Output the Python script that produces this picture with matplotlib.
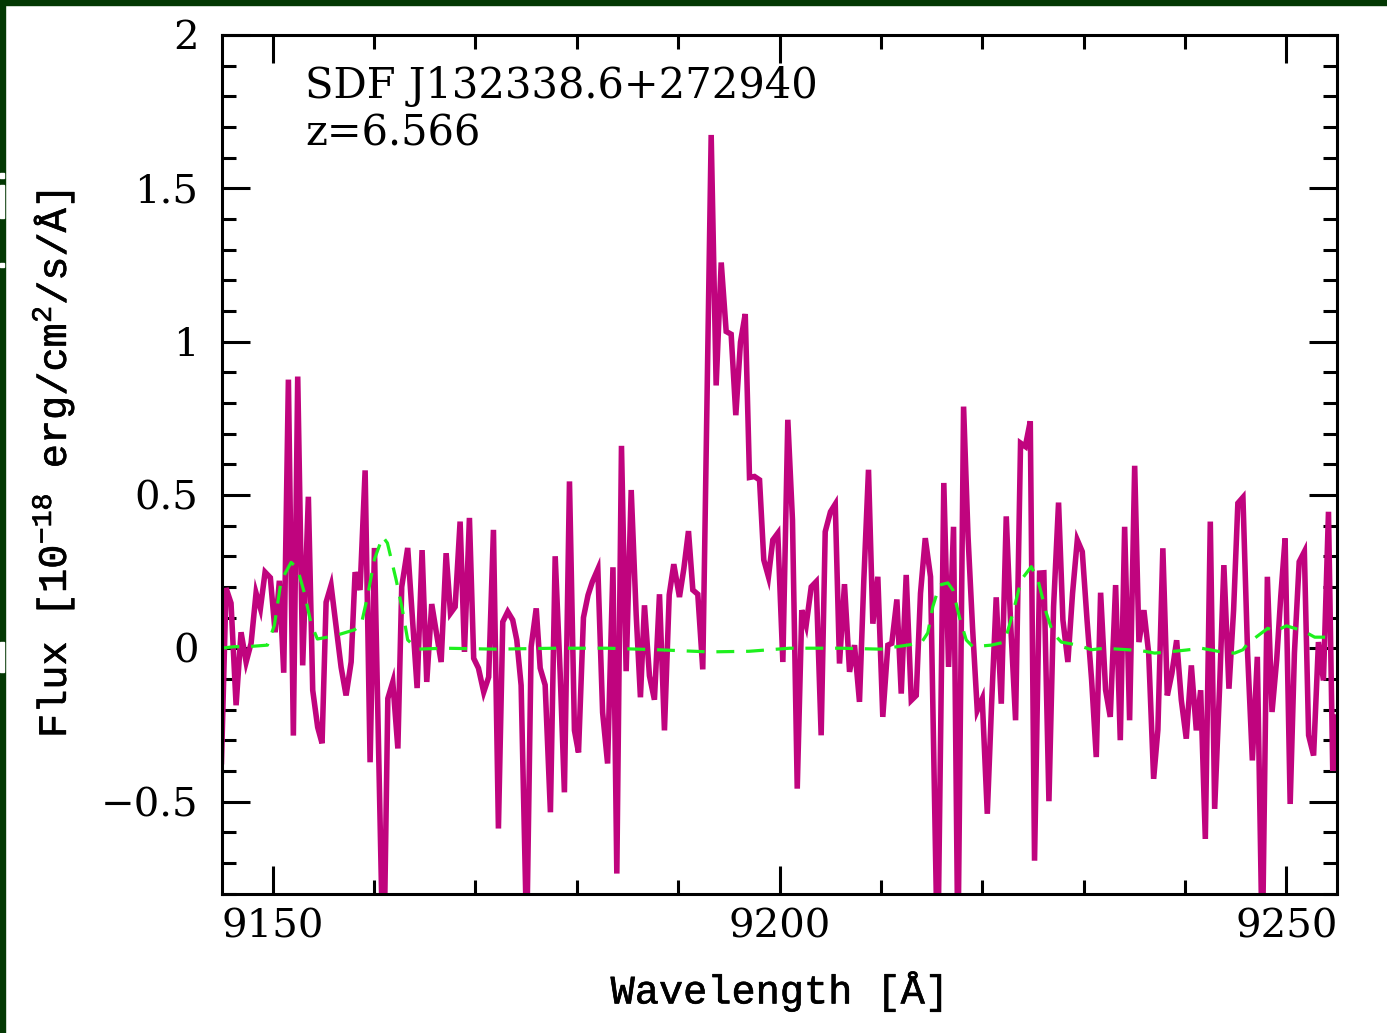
"""
Spectrum of SDF J132338.6+272940 around the Lya line, with its noise curve.
"""
import matplotlib
matplotlib.use("Agg")
import matplotlib.pyplot as plt
import matplotlib.patheffects as pe
from matplotlib.patches import Rectangle
from matplotlib.ticker import MultipleLocator, FuncFormatter

# observed flux [1e-18 erg/cm^2/s/A]
wave = [
    9144.95, 9145.40, 9145.89, 9146.39, 9146.88, 9147.38, 9147.87, 9148.36, 9148.79, 9149.25,
    9149.77, 9150.24, 9150.66, 9151.09, 9151.55, 9152.04, 9152.47, 9152.96, 9153.52, 9153.95,
    9154.44, 9154.87, 9155.27, 9155.76, 9156.26, 9156.75, 9157.24, 9157.74, 9158.13, 9158.62,
    9159.12, 9159.61, 9160.04, 9160.93, 9161.36, 9161.85, 9162.35, 9162.73, 9163.32, 9164.25,
    9164.74, 9165.20, 9165.69, 9166.62, 9167.11, 9167.54, 9168.00, 9168.49, 9168.92, 9169.41,
    9169.83, 9170.30, 9170.82, 9171.31, 9171.78, 9172.27, 9172.70, 9173.19, 9173.68, 9174.08,
    9174.51, 9175.06, 9175.50, 9176.00, 9176.39, 9176.88, 9177.40, 9177.87, 9178.36, 9178.78,
    9179.28, 9179.77, 9180.17, 9180.66, 9181.11, 9181.53, 9182.08, 9182.55, 9183.04, 9183.57,
    9183.95, 9184.41, 9184.87, 9185.37, 9185.86, 9186.28, 9186.68, 9187.17, 9187.66, 9188.16,
    9188.65, 9189.12, 9189.57, 9190.13, 9190.56, 9191.02, 9191.45, 9191.94, 9192.43, 9192.83,
    9193.26, 9193.75, 9194.25, 9194.74, 9195.23, 9195.69, 9196.15, 9196.62, 9197.04, 9197.53,
    9198.03, 9198.45, 9198.91, 9199.34, 9199.83, 9200.33, 9200.82, 9201.28, 9201.75, 9202.20,
    9202.63, 9203.13, 9203.62, 9204.11, 9204.51, 9205.03, 9205.50, 9205.92, 9206.41, 9206.91,
    9207.40, 9207.89, 9208.32, 9208.78, 9209.21, 9209.70, 9210.19, 9210.69, 9211.08, 9211.58,
    9212.01, 9212.50, 9213.00, 9213.49, 9213.91, 9214.38, 9214.90, 9215.60, 9216.21, 9216.68,
    9217.17, 9217.60, 9218.16, 9218.60, 9219.04, 9219.51, 9220.00, 9220.50, 9220.92, 9221.38,
    9221.88, 9222.37, 9222.80, 9223.29, 9223.78, 9224.25, 9224.74, 9225.16, 9225.66, 9226.08,
    9226.58, 9227.04, 9227.53, 9227.96, 9228.45, 9228.91, 9229.38, 9229.87, 9230.34, 9230.79,
    9231.25, 9231.68, 9232.17, 9232.63, 9233.16, 9233.62, 9234.05, 9234.54, 9235.04, 9235.46,
    9235.95, 9236.42, 9236.91, 9237.33, 9237.82, 9238.26, 9238.71, 9239.18, 9239.64, 9240.13,
    9240.63, 9241.12, 9241.55, 9242.01, 9242.50, 9242.93, 9243.42, 9243.84, 9244.34, 9244.80,
    9245.22, 9245.72, 9246.18, 9246.65, 9247.14, 9247.63, 9248.13, 9248.59, 9249.05, 9249.45,
    9249.88, 9250.38, 9250.80, 9251.27, 9251.78, 9252.20, 9252.69, 9253.17, 9253.66, 9254.16,
    9254.58, 9255.01,
]
flux = [
    -0.37, 0.196, 0.147, -0.186, 0.052, -0.045, 0.016, 0.18, 0.13, 0.248,
    0.23, 0.052, 0.22, -0.08, 0.876, -0.285, 0.886, -0.056, 0.494, -0.137,
    -0.258, -0.31, 0.15, 0.205, 0.069, -0.062, -0.154, -0.045, 0.248, 0.19,
    0.58, -0.372, 0.327, -1.1, -0.164, -0.11, -0.327, 0.2, 0.327, -0.13,
    0.32, -0.11, 0.144, -0.045, 0.31, 0.114, 0.135, 0.413, -0.012, 0.425,
    -0.033, -0.065, -0.143, -0.094, 0.386, -0.588, 0.086, 0.119, 0.092, 0.027,
    -0.121, -0.95, 0.005, 0.13, -0.065, -0.12, -0.535, 0.3, -0.08, -0.47,
    0.544, -0.268, -0.34, 0.1, 0.173, 0.216, 0.258, -0.21, -0.376, 0.264,
    -0.735, 0.66, -0.075, 0.516, 0.11, -0.16, 0.14, -0.09, -0.168, 0.176,
    -0.268, 0.174, 0.274, 0.167, 0.259, 0.382, 0.19, 0.176, -0.069, 0.78,
    1.674, 0.857, 1.258, 1.033, 1.024, 0.76, 0.998, 1.09, 0.557, 0.56,
    0.549, 0.288, 0.233, 0.353, 0.375, -0.045, 0.745, 0.418, -0.458, 0.124,
    0.075, 0.2, 0.217, -0.284, 0.38, 0.445, 0.47, -0.05, 0.209, -0.077,
    0.01, -0.175, 0.223, 0.582, 0.08, 0.233, -0.224, 0.01, 0.016, 0.159,
    -0.148, 0.239, -0.17, -0.154, 0.179, 0.359, 0.233, -1.05, 0.539, -0.061,
    0.396, -1.0, 0.788, 0.364, 0.07, -0.203, -0.165, -0.54, -0.185, 0.166,
    -0.181, 0.43, 0.082, -0.235, 0.669, 0.658, 0.74, -0.693, 0.245, 0.246,
    -0.499, 0.136, 0.475, 0.092, -0.045, 0.179, 0.353, 0.315, 0.092, -0.103,
    -0.355, 0.181, -0.136, -0.224, 0.206, -0.3, 0.396, -0.235, 0.595, 0.02,
    0.124, -0.016, -0.426, -0.266, 0.326, -0.154, -0.082, 0.026, -0.169, -0.295,
    -0.056, -0.268, -0.137, -0.622, 0.413, -0.524, -0.125, 0.271, -0.132, 0.125,
    0.473, 0.492, -0.016, -0.366, -0.028, -1.0, 0.233, -0.208, -0.038, 0.168,
    0.358, -0.508, -0.016, 0.282, 0.315, -0.284, -0.35, 0.02, -0.105, 0.445,
    -0.4, -0.225,
]

# 1-sigma noise
err_wave = [
    9144.95, 9146.22, 9147.50, 9149.48, 9150.17, 9150.83, 9151.82, 9152.44, 9153.13, 9153.79,
    9154.41, 9155.40, 9156.38, 9158.06, 9158.72, 9159.34, 9160.04, 9160.85, 9161.32, 9162.18,
    9162.80, 9163.32, 9164.31, 9167.00, 9172.00, 9178.00, 9183.00, 9188.00, 9193.00, 9197.00,
    9201.00, 9206.00, 9210.00, 9213.98, 9214.63, 9215.13, 9215.79, 9216.61, 9217.10, 9217.76,
    9218.42, 9219.07, 9220.89, 9222.20, 9223.02, 9223.85, 9224.84, 9225.49, 9226.32, 9226.97,
    9227.80, 9229.44, 9230.76, 9232.07, 9235.69, 9237.01, 9238.65, 9240.13, 9241.61, 9243.42,
    9244.90, 9245.72, 9246.21, 9247.53, 9248.18, 9248.84, 9250.00, 9250.82, 9251.64, 9252.80,
    9253.79, 9255.04,
]
err_flux = [
    0.0, 0.005, 0.005, 0.01, 0.075, 0.22, 0.28, 0.26, 0.18, 0.08,
    0.03, 0.036, 0.043, 0.06, 0.075, 0.167, 0.29, 0.364, 0.343, 0.223,
    0.125, 0.027, -0.003, 0.0, -0.003, 0.0, 0.0, -0.005, -0.012, -0.01,
    0.0, 0.0, -0.003, 0.017, 0.05, 0.136, 0.206, 0.213, 0.19, 0.1,
    0.027, 0.005, 0.01, 0.02, 0.114, 0.223, 0.266, 0.223, 0.115, 0.05,
    0.02, 0.01, -0.005, 0.0, -0.008, -0.016, -0.011, -0.006, 0.0, -0.011,
    -0.016, -0.005, 0.016, 0.049, 0.065, 0.054, 0.073, 0.065, 0.057, 0.036,
    0.036, 0.033,
]

x_ticks = [9150, 9200, 9250]
y_ticks = [-0.5, 0, 0.5, 1, 1.5, 2]
obj_name = "SDF J132338.6+272940"
obj_z = "z=6.566"

plt.rcParams["font.family"] = ["DejaVu Serif"]
plt.rcParams["mathtext.fontset"] = "custom"
plt.rcParams["mathtext.rm"] = "Liberation Mono"
plt.rcParams["mathtext.it"] = "Liberation Mono"
plt.rcParams["mathtext.default"] = "rm"

fig = plt.figure(figsize=(13.87, 10.33), dpi=100)
ax = fig.add_axes([222 / 1387, 1 - 893.5 / 1033, 1115 / 1387, 858.5 / 1033])

ax.plot(wave, flux, color="#C0047E", lw=4.0, solid_joinstyle="miter")
ax.plot(err_wave, err_flux, color="#1EF01E", lw=2.3, dashes=(5.6, 3.7))

ax.set_xlim(9145, 9255)
ax.set_ylim(-0.8, 2)

ax.set_xticks(x_ticks)
ax.set_yticks(y_ticks)
ax.xaxis.set_minor_locator(MultipleLocator(10))
ax.yaxis.set_minor_locator(MultipleLocator(0.1))
ax.yaxis.set_major_formatter(FuncFormatter(lambda v, p: f"{v:g}".replace("-", "\u2212")))

ax.tick_params(which="both", direction="in", top=True, right=True, width=2.2,
               labelsize=29, color="black")
ax.tick_params(which="major", length=20)
ax.tick_params(which="minor", length=10)
ax.tick_params(axis="x", pad=11)
ax.tick_params(axis="y", pad=17)
for sp in ax.spines.values():
    sp.set_linewidth(2.2)

# typewriter face for the axis titles, thickened a little with a stroke
mono = "Liberation Mono"
thick = [pe.withStroke(linewidth=0.45, foreground="black")]
xl = ax.set_xlabel("Wavelength [Å]", fontsize=29, family=mono)
yl = ax.set_ylabel(r"Flux [10$^{-18}$ erg/cm$^2$/s/Å]", fontsize=29, family=mono)
xl.set_path_effects(thick)
yl.set_path_effects(thick)
ax.xaxis.set_label_coords(0.5, -0.09)
ax.yaxis.set_label_coords(-0.131, 0.5)

ax.text(9153.2, 1.794, obj_name, fontsize=30, va="baseline", ha="left")
ax.text(9153.2, 1.641, obj_z, fontsize=30, va="baseline", ha="left")

# dark slide frame along the top and left edges
band = "#033803"
fig.patches.append(Rectangle((0, 1 - 5 / 1033), 1, 5 / 1033, transform=fig.transFigure,
                             color=band, zorder=10))
fig.patches.append(Rectangle((0, 0), 5 / 1387, 1, transform=fig.transFigure,
                             color=band, zorder=10))
for y0, h in [(173, 5), (185, 33), (263, 4), (642, 30)]:
    fig.patches.append(Rectangle((0, 1 - (y0 + h) / 1033), 4 / 1387, h / 1033,
                                 transform=fig.transFigure, color="white", zorder=11))

fig.savefig("out.png", dpi=100)
